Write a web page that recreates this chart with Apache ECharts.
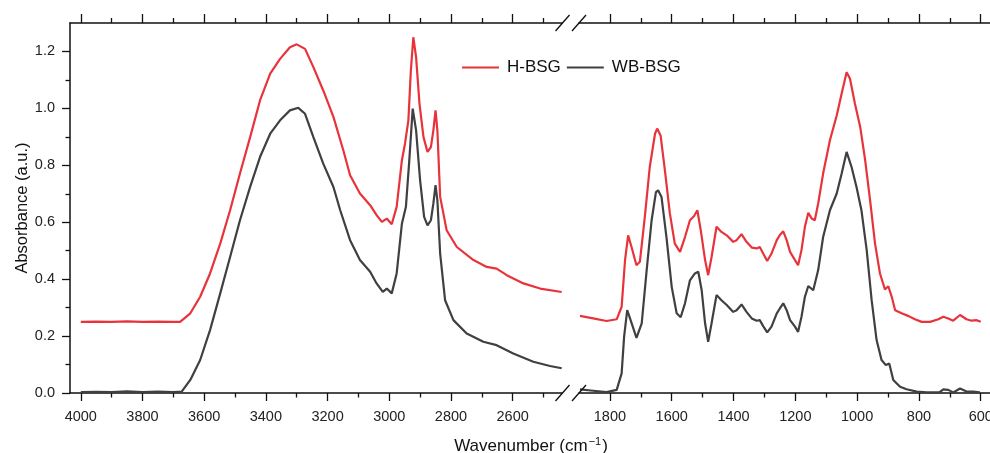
<!DOCTYPE html>
<html>
<head>
<meta charset="utf-8">
<script src="https://cdn.jsdelivr.net/npm/echarts@6/dist/echarts.min.js"></script>
<style>html,body{margin:0;padding:0;background:#fff;}#c{width:990px;height:453px;}</style>
</head>
<body>
<div id="c"></div>
<script>
// ---- data (wavenumber cm-1, absorbance a.u.) ----
var seriesNames = ['H-BSG', 'WB-BSG'];
var leftMajorTicks = [4000, 3800, 3600, 3400, 3200, 3000, 2800, 2600];
var leftMinorTicks = [3900, 3700, 3500, 3300, 3100, 2900, 2700, 2500];
var rightMajorTicks = [1800, 1600, 1400, 1200, 1000, 800, 600];
var rightMinorTicks = [1700, 1500, 1300, 1100, 900, 700];
var yMajorTicks = [0, 0.2, 0.4, 0.6, 0.8, 1.0, 1.2];
var yMinorTicks = [0.1, 0.3, 0.5, 0.7, 0.9, 1.1];

var hbsgHigh = [
 [4000,0.250],[3950,0.251],[3900,0.250],[3850,0.252],[3800,0.250],[3750,0.251],[3700,0.250],[3678,0.250],
 [3645,0.280],[3613,0.338],[3581,0.420],[3548,0.525],[3516,0.642],[3484,0.771],[3451,0.899],[3419,1.028],
 [3386,1.122],[3354,1.174],[3322,1.215],[3300,1.225],[3273,1.209],[3246,1.145],[3214,1.063],[3181,0.970],
 [3149,0.853],[3127,0.765],[3095,0.701],[3062,0.660],[3041,0.625],[3024,0.601],[3008,0.613],[2992,0.593],
 [2976,0.654],[2959,0.818],[2949,0.876],[2938,0.958],[2930,1.133],[2922,1.250],[2913,1.180],[2902,1.016],
 [2889,0.899],[2876,0.847],[2865,0.864],[2857,0.923],[2850,0.993],[2844,0.923],[2835,0.689],[2814,0.572],
 [2781,0.513],[2727,0.467],[2684,0.443],[2652,0.437],[2619,0.414],[2565,0.385],[2511,0.367],[2441,0.355]
];
var wbbsgHigh = [
 [4000,0.003],[3950,0.004],[3900,0.003],[3850,0.006],[3800,0.003],[3750,0.005],[3700,0.003],[3673,0.005],
 [3645,0.046],[3613,0.116],[3581,0.221],[3548,0.350],[3516,0.478],[3484,0.607],[3451,0.724],[3419,0.829],
 [3386,0.911],[3354,0.958],[3322,0.993],[3295,1.002],[3273,0.981],[3246,0.899],[3214,0.806],[3181,0.724],
 [3159,0.642],[3127,0.537],[3095,0.467],[3062,0.426],[3041,0.385],[3021,0.355],[3008,0.367],[2992,0.350],
 [2976,0.420],[2959,0.595],[2946,0.654],[2935,0.818],[2924,0.999],[2913,0.923],[2900,0.747],[2887,0.619],
 [2876,0.589],[2865,0.607],[2857,0.666],[2850,0.730],[2844,0.677],[2835,0.490],[2819,0.326],[2792,0.256],
 [2749,0.209],[2695,0.180],[2652,0.168],[2598,0.139],[2533,0.110],[2479,0.095],[2441,0.087]
];
var hbsgLow = [
 [1897,0.271],[1854,0.262],[1811,0.253],[1778,0.259],[1762,0.303],[1751,0.467],[1741,0.554],[1730,0.513],
 [1714,0.449],[1703,0.461],[1687,0.619],[1671,0.794],[1654,0.911],[1647,0.929],[1636,0.905],[1622,0.782],
 [1606,0.631],[1590,0.525],[1573,0.496],[1557,0.548],[1541,0.607],[1528,0.621],[1517,0.642],[1506,0.572],
 [1492,0.467],[1482,0.414],[1471,0.478],[1455,0.584],[1439,0.566],[1422,0.554],[1401,0.531],[1390,0.537],
 [1374,0.558],[1358,0.531],[1341,0.511],[1325,0.508],[1315,0.513],[1304,0.490],[1291,0.464],[1277,0.490],
 [1260,0.537],[1250,0.555],[1239,0.568],[1228,0.537],[1217,0.496],[1201,0.467],[1191,0.449],[1180,0.502],
 [1169,0.584],[1158,0.633],[1147,0.613],[1137,0.607],[1126,0.666],[1110,0.771],[1088,0.888],[1066,0.975],
 [1050,1.052],[1034,1.127],[1023,1.104],[1007,1.016],[990,0.935],[974,0.818],[958,0.677],[942,0.525],
 [926,0.420],[910,0.364],[899,0.375],[888,0.338],[877,0.291],[856,0.280],[835,0.271],[813,0.259],
 [791,0.250],[764,0.250],[737,0.259],[721,0.268],[705,0.262],[689,0.254],[667,0.274],[646,0.259],
 [630,0.254],[613,0.256],[600,0.250]
];
var wbbsgLow = [
 [1897,0.013],[1854,0.008],[1811,0.003],[1778,0.011],[1762,0.069],[1754,0.198],[1744,0.291],[1733,0.256],
 [1714,0.194],[1697,0.245],[1681,0.432],[1665,0.607],[1651,0.706],[1644,0.712],[1633,0.689],[1617,0.548],
 [1600,0.373],[1584,0.280],[1571,0.266],[1557,0.315],[1541,0.396],[1525,0.420],[1514,0.426],[1503,0.361],
 [1492,0.245],[1482,0.180],[1471,0.245],[1455,0.344],[1439,0.326],[1422,0.309],[1401,0.285],[1390,0.291],
 [1374,0.311],[1358,0.285],[1341,0.262],[1325,0.254],[1315,0.256],[1304,0.235],[1291,0.213],[1277,0.233],
 [1260,0.280],[1250,0.297],[1239,0.315],[1228,0.291],[1217,0.256],[1201,0.233],[1191,0.215],[1180,0.268],
 [1169,0.338],[1158,0.376],[1142,0.361],[1126,0.432],[1110,0.548],[1088,0.642],[1066,0.701],[1050,0.771],
 [1034,0.847],[1018,0.794],[1002,0.724],[986,0.642],[969,0.502],[953,0.326],[937,0.186],[921,0.116],
 [907,0.098],[896,0.104],[883,0.046],[861,0.022],[840,0.013],[807,0.005],[775,0.002],[734,0.002],
 [721,0.013],[705,0.011],[689,0.002],[667,0.016],[646,0.005],[624,0.005],[603,0.002]
];

// ---- chart ----
var RED = '#e8333b', GRAY = '#404040', AX = '#111';
var FONT = '"Liberation Sans", Arial, sans-serif';
var chart = echarts.init(document.getElementById('c'), null, {renderer: 'canvas'});

function xAx(grid, pos, min, max, ticks, len, line, labels) {
  return {
    type: 'value', gridIndex: grid, position: pos, inverse: true, min: min, max: max,
    axisLine: {show: line, onZero: false, lineStyle: {color: AX, width: 1.5}},
    axisTick: {show: true, inside: false, length: len, customValues: ticks, lineStyle: {color: AX, width: 1.3}},
    axisLabel: labels ? {show: true, customValues: ticks, margin: 16, fontSize: 14.5, color: '#222', fontFamily: FONT,
      formatter: function (v) { return String(Math.round(v)); }} : {show: false},
    splitLine: {show: false}
  };
}
function yAx(grid, ticks, len, line, labels, showTicks) {
  return {
    type: 'value', gridIndex: grid, position: 'left', min: 0, max: 1.3,
    axisLine: {show: line, onZero: false, lineStyle: {color: AX, width: 1.5}},
    axisTick: {show: showTicks, inside: false, length: len, customValues: ticks, lineStyle: {color: AX, width: 1.3}},
    axisLabel: labels ? {show: true, customValues: ticks, margin: 15, fontSize: 14.5, color: '#222', fontFamily: FONT,
      formatter: function (v) { return v.toFixed(1); }} : {show: false},
    splitLine: {show: false}
  };
}

var yTitle = yAx(0, yMajorTicks, 8, true, true, true);
yTitle.name = 'Absorbance (a.u.)';
yTitle.nameLocation = 'middle';
yTitle.nameGap = 39;
yTitle.nameTextStyle = {fontSize: 16.5, color: '#111', fontFamily: FONT};

function slash(cx, cy) {
  return {type: 'line', shape: {x1: cx - 7, y1: cy + 8, x2: cx + 7, y2: cy - 8},
    style: {stroke: AX, lineWidth: 1.3}, z: 100};
}

function line(name, data, xi, yi, color) {
  return {name: name, type: 'line', xAxisIndex: xi, yAxisIndex: yi, data: data,
    showSymbol: false, symbol: 'none', smooth: false, animation: false,
    lineStyle: {color: color, width: 2.2}, itemStyle: {color: color}};
}

chart.setOption({
  backgroundColor: '#fff',
  animation: false,
  textStyle: {fontFamily: FONT},
  grid: [
    {left: 70, top: 23, width: 492, height: 370, outerBoundsMode: 'none', containLabel: false},
    {left: 579, top: 23, width: 411, height: 370, outerBoundsMode: 'none', containLabel: false}
  ],
  xAxis: [
    xAx(0, 'bottom', 2440, 4035, leftMajorTicks, 8, true, true),
    xAx(0, 'bottom', 2440, 4035, leftMinorTicks, 4.5, false, false),
    xAx(0, 'top', 2440, 4035, leftMajorTicks, 9, true, false),
    xAx(0, 'top', 2440, 4035, leftMinorTicks, 5, false, false),
    xAx(1, 'bottom', 570, 1900, rightMajorTicks, 8, true, true),
    xAx(1, 'bottom', 570, 1900, rightMinorTicks, 4.5, false, false),
    xAx(1, 'top', 570, 1900, rightMajorTicks, 9, true, false),
    xAx(1, 'top', 570, 1900, rightMinorTicks, 5, false, false)
  ],
  yAxis: [
    yTitle,
    yAx(1, [], 0, false, false, false),
    yAx(0, yMinorTicks, 4.5, false, false, true)
  ],
  legend: {
    data: [{name: seriesNames[0], icon: 'rect'}, {name: seriesNames[1], icon: 'rect'}],
    left: 462, top: 59, padding: 0, itemWidth: 37, itemHeight: 2, itemGap: 6,
    textStyle: {fontSize: 17, color: '#111', fontFamily: FONT, padding: [0, 0, 0, 3]}
  },
  series: [
    line(seriesNames[0], hbsgHigh, 0, 0, RED),
    line(seriesNames[1], wbbsgHigh, 0, 0, GRAY),
    line(seriesNames[0], hbsgLow, 4, 1, RED),
    line(seriesNames[1], wbbsgLow, 4, 1, GRAY)
  ],
  graphic: [
    slash(562.5, 393), slash(579, 393), slash(562.5, 23), slash(579, 23),
    {type: 'text', x: 531, y: 446, z: 100,
     style: {text: '{a|Wavenumber (cm}{s|−1}{a|)}', align: 'center', verticalAlign: 'middle',
       rich: {a: {fontSize: 17, fill: '#111', fontFamily: FONT},
              s: {fontSize: 11, fill: '#111', fontFamily: FONT, verticalAlign: 'top', padding: [0, 1, 8, 1]}}}}
  ]
});
</script>
</body>
</html>
